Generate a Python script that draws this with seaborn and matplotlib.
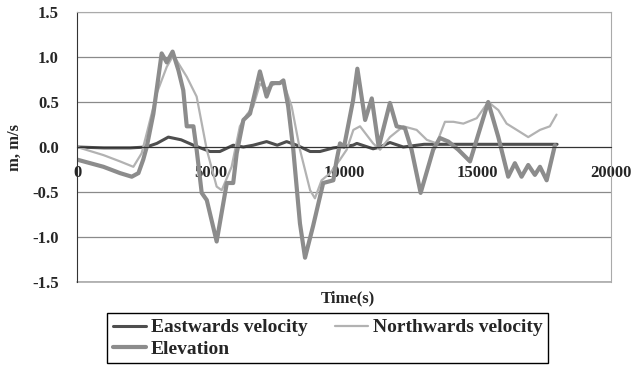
import numpy as np
import pandas as pd
import matplotlib
matplotlib.use('Agg')
import matplotlib.pyplot as plt
import seaborn as sns

sns.set_style('white')
plt.rcParams['font.family'] = ['Liberation Serif', 'DejaVu Serif']
plt.rcParams['font.weight'] = 'bold'

# Eastwards velocity
east_t = [0, 1000, 2000, 2600, 2990, 3420, 3900, 4360, 4980, 5350, 5850, 6230, 6600,
          7100, 7500, 7850, 8230, 8730, 9100, 9600, 9850, 10340, 10480, 11090, 11350,
          11720, 12220, 13000, 15000, 17980]
east_v = [0.0, -0.01, -0.01, 0.0, 0.04, 0.11, 0.08, 0.02, -0.05, -0.05, 0.02, 0.0, 0.02,
          0.06, 0.02, 0.06, 0.02, -0.05, -0.05, -0.01, 0.0, 0.02, 0.04, -0.02, 0.0,
          0.05, 0.0, 0.03, 0.03, 0.03]

# Northwards velocity
north_t = [0, 990, 1610, 2110, 2420, 2610, 2990, 3360, 3610, 4110, 4480, 4860, 5230, 5420,
           5790, 6100, 6360, 6600, 6850, 7100, 7400, 7730, 8040, 8350, 8730, 8910, 9160,
           9480, 9850, 10100, 10350, 10600, 11090, 11350, 11720, 12220, 12720, 13100, 13470,
           13780, 14100, 14470, 14970, 15400, 15780, 16090, 16470, 16900, 17340, 17710, 17960]
north_v = [0.0, -0.09, -0.16, -0.22, -0.07, 0.15, 0.60, 0.89, 1.02, 0.78, 0.56, -0.03, -0.44, -0.48,
           -0.22, 0.23, 0.36, 0.45, 0.70, 0.65, 0.70, 0.72, 0.45, -0.03, -0.48, -0.57, -0.37,
           -0.29, -0.14, -0.03, 0.19, 0.23, 0.04, -0.03, 0.11, 0.23, 0.19, 0.08, 0.04,
           0.28, 0.28, 0.26, 0.32, 0.50, 0.41, 0.26, 0.19, 0.11, 0.19, 0.23, 0.36]

# Elevation
elev_t = [0, 990, 1610, 2050, 2300, 2480, 2610, 2860, 3170, 3360, 3580, 3800, 3980, 4110,
          4360, 4480, 4670, 4860, 5230, 5610, 5850, 5980, 6230, 6480, 6850, 7100, 7290,
          7600, 7730, 7910, 8100, 8350, 8540, 8840, 9220, 9600, 9720, 9850, 10000, 10340,
          10500, 10790, 11040, 11300, 11720, 11970, 12280, 12530, 12870, 13340, 13590, 13910,
          14280, 14720, 15400, 15780, 16150, 16400, 16650, 16900, 17150, 17340, 17590, 17900]
elev_v = [-0.14, -0.22, -0.29, -0.33, -0.29, -0.14, 0.0, 0.37, 1.04, 0.94, 1.06, 0.85, 0.63, 0.23,
          0.23, -0.03, -0.51, -0.59, -1.05, -0.40, -0.40, -0.07, 0.30, 0.37, 0.84, 0.56, 0.71,
          0.71, 0.74, 0.45, -0.03, -0.85, -1.23, -0.88, -0.40, -0.37, -0.15, 0.04, 0.0, 0.52,
          0.87, 0.30, 0.54, 0.0, 0.49, 0.23, 0.21, -0.03, -0.51, -0.03, 0.10, 0.06,
          -0.03, -0.16, 0.50, 0.11, -0.33, -0.18, -0.33, -0.20, -0.31, -0.22, -0.37, 0.02]

fig = plt.figure(figsize=(6.35, 3.65), dpi=100)
ax = fig.add_axes([0.1213, 0.2274, 0.8409, 0.7397])

sns.lineplot(x=east_t, y=east_v, ax=ax, color='#4e4e4e', linewidth=2.2,
             label='Eastwards velocity', sort=False)
sns.lineplot(x=north_t, y=north_v, ax=ax, color='#b2b2b2', linewidth=1.6,
             label='Northwards velocity', sort=False)
sns.lineplot(x=elev_t, y=elev_v, ax=ax, color='#8c8c8c', linewidth=3.0,
             label='Elevation', sort=False)

ax.set_xlim(0, 20000)
ax.set_ylim(-1.5, 1.5)
ax.set_xticks([0, 5000, 10000, 15000, 20000])
ax.set_yticks([-1.5, -1.0, -0.5, 0.0, 0.5, 1.0, 1.5])
ax.set_yticklabels(['-1.5', '-1.0', '-0.5', '0.0', '0.5', '1.0', '1.5'])
ax.yaxis.grid(True, color='#8a8a8a', linewidth=0.9)
ax.set_axisbelow(True)

ax.spines['bottom'].set_position(('data', 0))
ax.spines['bottom'].set_color('#333333')
ax.spines['left'].set_color('#333333')
ax.spines['top'].set_color('#aaaaaa')
ax.spines['right'].set_color('#aaaaaa')
ax.axhline(-1.5, color='#aaaaaa', linewidth=1.2, clip_on=False, zorder=0)

ax.tick_params(axis='x', direction='inout', length=6, width=0.8, color='#333333',
               pad=10, labelsize=12)
ax.tick_params(axis='y', length=0, pad=13, labelsize=12)

ax.set_xlabel('Time(s)', fontsize=12, fontweight='bold')
ax.set_ylabel('m, m/s', fontsize=12, fontweight='bold')
ax.xaxis.set_label_coords(0.507, -0.03)
ax.yaxis.set_label_coords(-0.102, 0.5)

h, l = ax.get_legend_handles_labels()
order = [0, 2, 1]
leg = ax.legend([h[i] for i in order], [l[i] for i in order], ncol=2,
                loc='upper left', bbox_to_anchor=(107 / 635, 1 - 313 / 365),
                bbox_transform=fig.transFigure, borderaxespad=0,
                prop={'size': 14, 'weight': 'bold'}, frameon=True, fancybox=False,
                edgecolor='black', framealpha=1, handlelength=1.7, handletextpad=0.25,
                columnspacing=1.4, labelspacing=0.18, borderpad=0.3)
leg.get_frame().set_linewidth(1.0)

fig.savefig('out.png', dpi=100)
